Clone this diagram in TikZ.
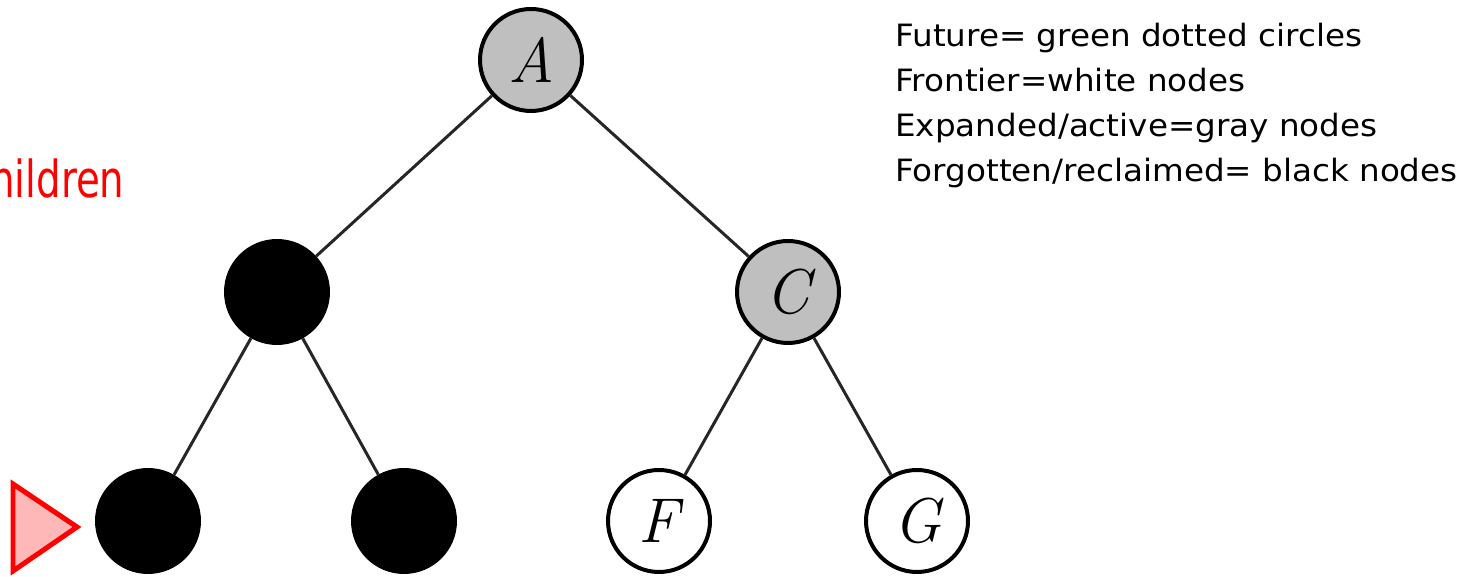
\documentclass[tikz,border=0pt]{standalone}
\usepackage{fontspec}
\newfontfamily\legendfont[FakeStretch=1.06]{DejaVu Sans}
\newfontfamily\notefont[FakeStretch=0.76]{DejaVu Sans}
\tikzset{
  treenode/.style={circle,draw=black,line width=0.08cm,minimum size=2.04cm,inner sep=0pt,
    font=\fontsize{36}{36}\selectfont\itshape},
  expanded/.style={treenode,fill=black!25},
  reclaimed/.style={treenode,fill=black},
  frontier/.style={treenode,fill=white},
  treeedge/.style={black!85,line width=0.06cm},
  legend/.style={anchor=base west,inner sep=0pt,font=\legendfont\fontsize{17.5}{21}\selectfont}
}
\begin{document}
\begin{tikzpicture}[x=0.02cm,y=0.02cm]
            \useasboundingbox (0,0) rectangle (1473,577);
            \node[expanded] (A) at (531,517) {A};
            \node[reclaimed] (B) at (277,285) {};
            \node[expanded] (C) at (788,285) {C};
            \node[reclaimed] (D) at (148,56) {};
            \node[reclaimed] (E) at (404,56) {};
            \node[frontier] (F) at (659,56) {F};
            \node[frontier] (G) at (917,56) {G};
            \draw[treeedge] (A) -- (B);
            \draw[treeedge] (A) -- (C);
            \draw[treeedge] (B) -- (D);
            \draw[treeedge] (B) -- (E);
            \draw[treeedge] (C) -- (F);
            \draw[treeedge] (C) -- (G);
            \draw[red,fill=red!28,line width=0.1cm,line join=miter] (13,93) -- (13,6) -- (77,50) -- cycle;
            \node[anchor=base west,inner sep=0pt,red,font=\notefont\fontsize{29}{34}\selectfont] (note) at (-10,379) {hildren};
            \foreach \txt [count=\i] in {Future= green dotted circles,Frontier=white nodes,Expanded/active=gray nodes,Forgotten/reclaimed= black nodes}
                \node[legend] (leg\i) at (895,{530-45*(\i-1)}) {\txt};
        \end{tikzpicture}
\end{document}
